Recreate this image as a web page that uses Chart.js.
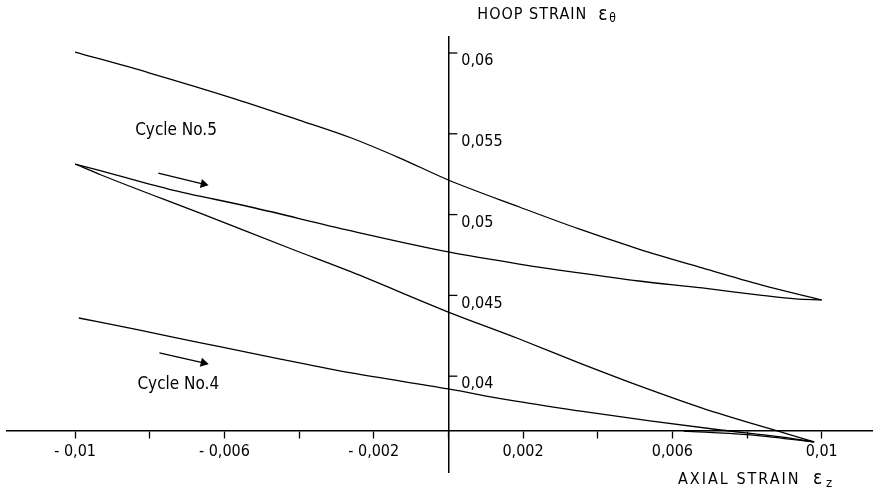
<!DOCTYPE html>
<html lang="en">
<head>
<meta charset="UTF-8">
<meta name="viewport" content="width=device-width">
<script src="https://cdn.jsdelivr.net/npm/chart.js@4.4.0/dist/chart.umd.min.js"></script>
<title>Hoop strain vs axial strain</title>
<style>
    body {
        margin: 0;
        background: #ffffff;
    }
    .chart-container {
        position: relative;
        width: 878px;
        height: 496px;
    }
</style>
</head>
<body>
<div class="chart-container">
    <canvas id="myChart"></canvas>
</div>
<script>
const FONT = "'DejaVu Sans Condensed', 'Liberation Sans', sans-serif";

// values, axial strain (x) and hoop strain (y)
const outerX = [-0.0100, -0.0080, -0.0057, -0.0040, -0.0026, -0.0013, 0.0000, 0.0019, 0.0035, 0.0051, 0.0068, 0.0084, 0.0100];
const outerY = [0.06006, 0.05876, 0.05715, 0.05585, 0.05474, 0.05350, 0.05214, 0.05047, 0.04911, 0.04787, 0.04670, 0.04564, 0.04472];

const cycle5UpX = [-0.0100, -0.0093, -0.0075, -0.0053, -0.0026, 0.0000, 0.0019, 0.0035, 0.0051, 0.0068, 0.0084, 0.0093, 0.0100];
const cycle5UpY = [0.05313, 0.05270, 0.05158, 0.05047, 0.04899, 0.04769, 0.04694, 0.04639, 0.04589, 0.04546, 0.04500, 0.04478, 0.04472];

const cycle5LowX = [-0.0100, -0.0093, -0.0066, -0.0042, -0.0026, 0.0000, 0.0019, 0.0035, 0.0047, 0.0068, 0.0089, 0.0098];
const cycle5LowY = [0.05313, 0.05245, 0.05004, 0.04787, 0.04645, 0.04397, 0.04230, 0.04082, 0.03976, 0.03803, 0.03655, 0.03593];

const cycle4UpX = [-0.0099, -0.0083, -0.0066, -0.0045, -0.0026, 0.0000, 0.0016, 0.0035, 0.0054, 0.0073, 0.0089, 0.0098];
const cycle4UpY = [0.04360, 0.04286, 0.04205, 0.04106, 0.04020, 0.03921, 0.03853, 0.03785, 0.03723, 0.03667, 0.03624, 0.03593];

const cycle4LowX = [0.0063, 0.0080, 0.0098];
const cycle4LowY = [0.03660, 0.03638, 0.03593];

// direction arrows
const arrow5X = [-0.00777, -0.00656];
const arrow5Y = [0.05257, 0.05189];
const arrow4X = [-0.00774, -0.00656];
const arrow4Y = [0.04144, 0.04082];

// ticks
const xTickValues = [-0.01, -0.008, -0.006, -0.004, -0.002, 0, 0.002, 0.004, 0.006, 0.008, 0.01];
const xTickLabels = ['- 0,01', '', '- 0,006', '', '- 0,002', '', '0,002', '', '0,006', '', '0,01'];
const yTickValues = [0.04, 0.045, 0.05, 0.055, 0.06];
const yTickLabels = ['0,04', '0,045', '0,05', '0,055', '0,06'];

const pts = (xs, ys) => xs.map((x, i) => ({x: x, y: ys[i]}));

function curve(xs, ys) {
    return {
        data: pts(xs, ys),
        showLine: true,
        borderColor: '#000000',
        backgroundColor: '#000000',
        borderWidth: 1.3,
        pointRadius: 0,
        cubicInterpolationMode: 'monotone',
        clip: false
    };
}

function arrow(xs, ys) {
    return {
        data: pts(xs, ys),
        showLine: true,
        borderColor: '#000000',
        backgroundColor: '#000000',
        borderWidth: 1.3,
        pointRadius: [0, 4],
        pointStyle: 'triangle',
        pointRotation: 103,
        tension: 0
    };
}

// axis titles, notes, and the y tick labels on the right side of the axis
const textPlugin = {
    id: 'textPlugin',
    afterDraw(chart) {
        const {ctx, scales: {x, y}} = chart;
        const ax = x.getPixelForValue(0);
        ctx.save();
        ctx.fillStyle = '#000';
        ctx.strokeStyle = '#000';
        ctx.lineWidth = 1.3;

        ctx.font = '16px ' + FONT;
        ctx.textAlign = 'left';
        ctx.textBaseline = 'middle';
        y.ticks.forEach((t, i) => {
            const py = y.getPixelForValue(t.value);
            ctx.beginPath();
            ctx.moveTo(ax, py);
            ctx.lineTo(ax + 9, py);
            ctx.stroke();
            ctx.fillText(yTickLabels[i], ax + 13, py + 8);
        });

        // cycle notes
        ctx.font = '17px ' + FONT;
        ctx.fillText('Cycle No.5', x.getPixelForValue(-0.00839), y.getPixelForValue(0.05517));
        ctx.fillText('Cycle No.4', x.getPixelForValue(-0.00833), y.getPixelForValue(0.03946));

        // axis titles
        ctx.font = '16px ' + FONT;
        ctx.letterSpacing = '1px';
        ctx.fillText('HOOP STRAIN', ax + 29, 15);
        ctx.letterSpacing = '0px';
        ctx.font = '19px ' + FONT;
        ctx.fillText('\u03b5', ax + 150, 15);
        ctx.font = '12px ' + FONT;
        ctx.fillText('\u03b8', ax + 161, 19);

        ctx.font = '16px ' + FONT;
        ctx.letterSpacing = '2px';
        ctx.fillText('AXIAL STRAIN', 678, 480);
        ctx.letterSpacing = '0px';
        ctx.font = '19px ' + FONT;
        ctx.fillText('\u03b5', 813, 479);
        ctx.font = '13px ' + FONT;
        ctx.fillText('z', 826, 484);
        ctx.restore();
    }
};

const data = {
    datasets: [
        curve(outerX, outerY),
        curve(cycle5UpX, cycle5UpY),
        curve(cycle5LowX, cycle5LowY),
        curve(cycle4UpX, cycle4UpY),
        curve(cycle4LowX, cycle4LowY),
        arrow(arrow5X, arrow5Y),
        arrow(arrow4X, arrow4Y)
    ]
};

const options = {
    responsive: true,
    maintainAspectRatio: false,
    animation: false,
    layout: {
        padding: {left: 7, right: 0, top: 37, bottom: 24}
    },
    scales: {
        x: {
            type: 'linear',
            min: -0.011823,
            max: 0.011367,
            position: {y: 0.0366},
            afterBuildTicks: (axis) => { axis.ticks = xTickValues.map(v => ({value: v})); },
            afterFit: (axis) => { axis.height = 0; },
            grid: {
                drawOnChartArea: false,
                drawTicks: true,
                tickLength: 7,
                tickColor: '#000',
                tickWidth: 1.3
            },
            border: {display: true, color: '#000', width: 1.5},
            ticks: {
                color: '#000',
                font: {family: FONT, size: 16},
                padding: 4,
                autoSkip: false,
                maxRotation: 0,
                minRotation: 0,
                callback: function(val, index) {
                    return xTickLabels[index];
                }
            }
        },
        y: {
            type: 'linear',
            min: 0.03407,
            max: 0.06099,
            position: {x: 0},
            afterBuildTicks: (axis) => { axis.ticks = yTickValues.map(v => ({value: v})); },
            afterFit: (axis) => { axis.width = 0; },
            grid: {drawOnChartArea: false, drawTicks: false},
            border: {display: true, color: '#000', width: 1.5},
            ticks: {display: false}
        }
    },
    plugins: {
        legend: {display: false},
        tooltip: {enabled: false}
    }
};

const config = {
    type: 'scatter',
    data: data,
    options: options,
    plugins: [textPlugin]
};

var myChart = new Chart(document.getElementById('myChart'), config);
</script>
</body>
</html>
